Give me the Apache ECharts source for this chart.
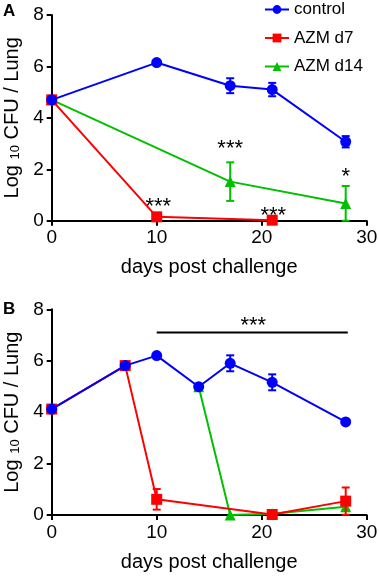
<!DOCTYPE html>
<html><head><meta charset="utf-8">
<script src="https://cdn.jsdelivr.net/npm/echarts@6/dist/echarts.min.js"></script>
<style>html,body{margin:0;padding:0;background:#fff}#c{width:379px;height:576px}</style>
</head><body><div id="c"></div>
<script>
// ---- Data ----
var xTicks = [0, 10, 20, 30];
var yTicks = [0, 2, 4, 6, 8];
var names = ['control', 'AZM d7', 'AZM d14'];
// Panel A
var aControlDays = [0, 10, 17, 21, 28];
var aControlVals = [4.7, 6.15, 5.25, 5.1, 3.07];
var aControlErr  = [0, 0, 0.29, 0.26, 0.22];
var aD7Days = [0, 10, 21];
var aD7Vals = [4.7, 0.15, 0.02];
var aD7Err  = [0, 0, 0];
var aD14Days = [0, 17, 28];
var aD14Vals = [4.7, 1.52, 0.67];
var aD14Err  = [0, 0.75, 0.68];
// Panel B
var bControlDays = [0, 7, 10, 14, 17, 21, 28];
var bControlVals = [4.12, 5.81, 6.2, 4.99, 5.9, 5.16, 3.62];
var bControlErr  = [0, 0, 0, 0, 0.31, 0.31, 0];
var bD7Days = [0, 7, 10, 21, 28];
var bD7Vals = [4.12, 5.81, 0.61, 0.02, 0.54];
var bD7Err  = [0, 0, 0.4, 0, 0.53];
var bD14Days = [14, 17, 21, 28];
var bD14Vals = [4.99, 0.0, 0.05, 0.32];
var bD14Err  = [0, 0, 0, 0.12];
// significance annotations [day, value, text]
var aStars = [[10.15, 0.72, '***'], [17, 2.97, '***'], [28, 1.88, '*'], [21.1, 0.39, '***']];
var bStars = [[19.2, 7.56, '***']];
var bSigLine = [[10, 7.1], [28.2, 7.1]];

var colors = {control: '#0000ff', d7: '#ff0000', d14: '#00c000'};

function pts(d, v) { return d.map(function (x, i) { return [x, v[i]]; }); }
function errData(d, v, e) {
  var out = [];
  d.forEach(function (x, i) { if (e[i] > 0) out.push([x, v[i] - e[i], v[i] + e[i]]); });
  return out;
}
function errSeries(idx, d, v, e, color, z) {
  return {
    type: 'custom', xAxisIndex: idx, yAxisIndex: idx, z: z, silent: true,
    data: errData(d, v, e),
    renderItem: function (params, api) {
      var x = api.value(0);
      var lo = api.coord([x, Math.max(0, api.value(1))]);
      var hi = api.coord([x, api.value(2)]);
      var w = 4;
      var st = {stroke: color, lineWidth: 2};
      return {type: 'group', children: [
        {type: 'line', shape: {x1: lo[0], y1: lo[1], x2: hi[0], y2: hi[1]}, style: st},
        {type: 'line', shape: {x1: lo[0] - w, y1: lo[1], x2: lo[0] + w, y2: lo[1]}, style: st},
        {type: 'line', shape: {x1: hi[0] - w, y1: hi[1], x2: hi[0] + w, y2: hi[1]}, style: st}
      ]};
    }
  };
}
function lineSeries(idx, name, d, v, color, symbol, size, z) {
  return {
    type: 'line', name: name, xAxisIndex: idx, yAxisIndex: idx, z: z,
    data: pts(d, v), symbol: symbol, symbolSize: size, showSymbol: true,
    lineStyle: {color: color, width: 2}, itemStyle: {color: color, opacity: 1},
    emphasis: {disabled: true}, animation: false
  };
}
function starSeries(idx, arr) {
  return {
    type: 'custom', xAxisIndex: idx, yAxisIndex: idx, z: 20, silent: true,
    data: arr,
    renderItem: function (params, api) {
      var p = api.coord([api.value(0), api.value(1)]);
      return {type: 'text', x: p[0], y: p[1] + 5,
        style: {text: arr[params.dataIndex][2], fill: '#000', font: '22px Arial, "Liberation Sans", sans-serif',
          align: 'center', verticalAlign: 'middle'}};
    }
  };
}
function sigLineSeries(idx, arr) {
  return {
    type: 'custom', xAxisIndex: idx, yAxisIndex: idx, z: 20, silent: true,
    data: [arr[0].concat(arr[1])],
    renderItem: function (params, api) {
      var a = api.coord([api.value(0), api.value(1)]);
      var b = api.coord([api.value(2), api.value(3)]);
      return {type: 'line', shape: {x1: a[0], y1: a[1], x2: b[0], y2: b[1]}, style: {stroke: '#000', lineWidth: 2}};
    }
  };
}

var font = 'Arial, "Liberation Sans", sans-serif';
function xAxis(idx) {
  return {
    type: 'value', gridIndex: idx, min: xTicks[0], max: xTicks[xTicks.length - 1], interval: xTicks[1] - xTicks[0],
    name: 'days post challenge', nameLocation: 'middle', nameGap: 37,
    nameTextStyle: {fontSize: 20, color: '#000', fontFamily: font},
    axisLine: {show: true, onZero: false, lineStyle: {color: '#000', width: 2}},
    axisTick: {show: true, length: 5, lineStyle: {color: '#000', width: 2}},
    axisLabel: {fontSize: 19, color: '#000', fontFamily: font, margin: 8},
    splitLine: {show: false}
  };
}
function yAxis(idx) {
  return {
    type: 'value', gridIndex: idx, min: yTicks[0], max: yTicks[yTicks.length - 1], interval: yTicks[1] - yTicks[0],
    name: 'Log {sub|10} CFU / Lung', nameLocation: 'middle', nameGap: 29, nameRotate: 90,
    nameTextStyle: {fontSize: 20, color: '#000', fontFamily: font,
      rich: {sub: {fontSize: 13, color: '#000', fontFamily: font, padding: [7, 0, 0, 0]}}},
    axisLine: {show: true, lineStyle: {color: '#000', width: 2}},
    axisTick: {show: true, length: 5, lineStyle: {color: '#000', width: 2}},
    axisLabel: {fontSize: 19, color: '#000', fontFamily: font, margin: 8},
    splitLine: {show: false}
  };
}

var chart = echarts.init(document.getElementById('c'), null, {renderer: 'canvas'});
chart.setOption({
  animation: false,
  backgroundColor: '#fff',
  textStyle: {fontFamily: font},
  grid: [
    {left: 51.7, right: 12.3, top: 15, height: 205.7, containLabel: false, outerBoundsMode: 'none'},
    {left: 51.7, right: 12.3, top: 309.3, height: 205.7, containLabel: false, outerBoundsMode: 'none'}
  ],
  xAxis: [xAxis(0), xAxis(1)],
  yAxis: [yAxis(0), yAxis(1)],
  legend: {
    data: names, orient: 'vertical', left: 259, top: -4, itemGap: 11.5,
    itemWidth: 24, itemHeight: 11,
    textStyle: {fontSize: 17, color: '#000', fontFamily: font, lineHeight: 16},
    selectedMode: false
  },
  graphic: [
    {type: 'text', left: 3, top: 3, style: {text: 'A', font: 'bold 17px Arial, "Liberation Sans", sans-serif', fill: '#000'}},
    {type: 'text', left: 3, top: 301, style: {text: 'B', font: 'bold 17px Arial, "Liberation Sans", sans-serif', fill: '#000'}}
  ],
  series: [
    // Panel A
    errSeries(0, aD14Days, aD14Vals, aD14Err, colors.d14, 2),
    lineSeries(0, names[2], aD14Days, aD14Vals, colors.d14, 'triangle', 11, 3),
    errSeries(0, aD7Days, aD7Vals, aD7Err, colors.d7, 4),
    lineSeries(0, names[1], aD7Days, aD7Vals, colors.d7, 'rect', 11, 5),
    errSeries(0, aControlDays, aControlVals, aControlErr, colors.control, 6),
    lineSeries(0, names[0], aControlDays, aControlVals, colors.control, 'circle', 11, 7),
    starSeries(0, aStars),
    // Panel B
    errSeries(1, bD14Days, bD14Vals, bD14Err, colors.d14, 2),
    lineSeries(1, names[2], bD14Days, bD14Vals, colors.d14, 'triangle', 11, 3),
    errSeries(1, bD7Days, bD7Vals, bD7Err, colors.d7, 4),
    lineSeries(1, names[1], bD7Days, bD7Vals, colors.d7, 'rect', 11, 5),
    errSeries(1, bControlDays, bControlVals, bControlErr, colors.control, 6),
    lineSeries(1, names[0], bControlDays, bControlVals, colors.control, 'circle', 11, 7),
    starSeries(1, bStars),
    sigLineSeries(1, bSigLine)
  ]
});
</script></body></html>
